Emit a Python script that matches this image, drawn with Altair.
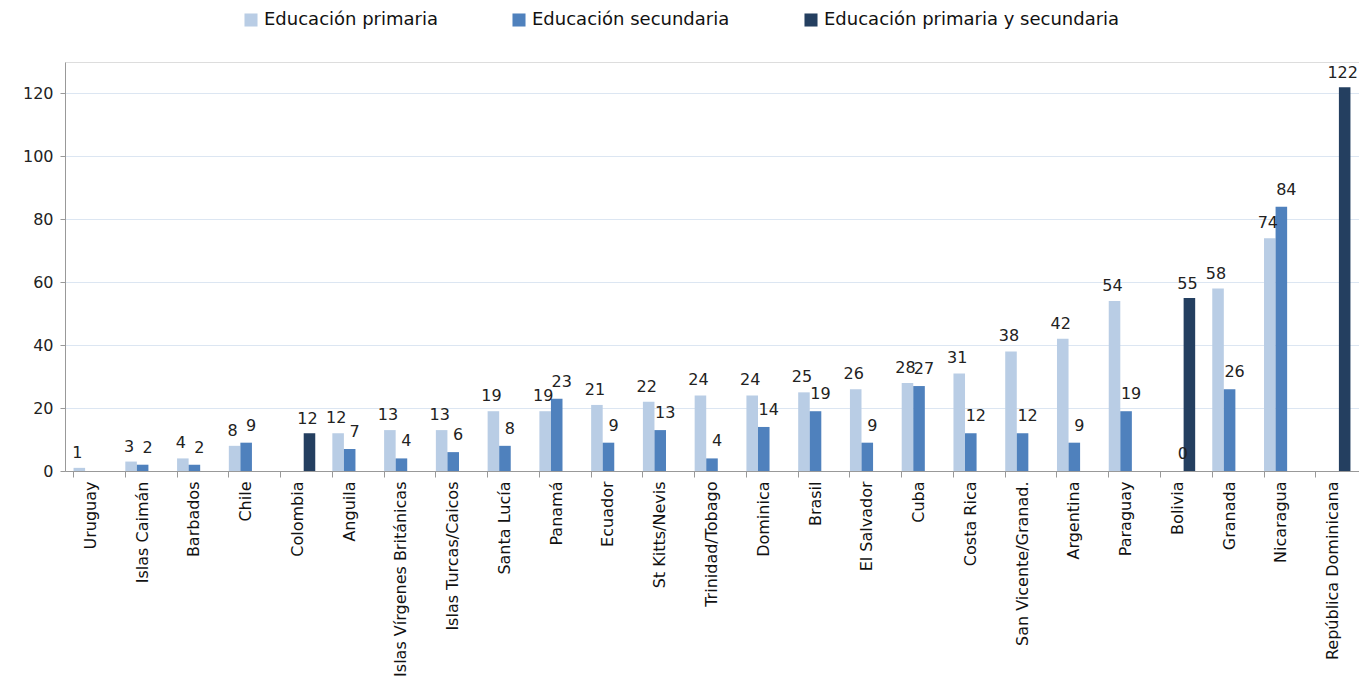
import altair as alt
import pandas as pd

countries = ["Uruguay", "Islas Caimán", "Barbados", "Chile", "Colombia", "Anguila",
             "Islas Vírgenes Británicas", "Islas Turcas/Caicos", "Santa Lucía", "Panamá",
             "Ecuador", "St Kitts/Nevis", "Trinidad/Tobago", "Dominica", "Brasil",
             "El Salvador", "Cuba", "Costa Rica", "San Vicente/Granad.", "Argentina",
             "Paraguay", "Bolivia", "Granada", "Nicaragua", "República Dominicana"]
primaria = [1, 3, 4, 8, None, 12, 13, 13, 19, 19, 21, 22, 24, 24, 25, 26, 28, 31, 38, 42, 54, None, 58, 74, None]
secundaria = [None, 2, 2, 9, None, 7, 4, 6, 8, 23, 9, 13, 4, 14, 19, 9, 27, 12, 12, 9, 19, 0, 26, 84, None]
ambas = [None, None, None, None, 12, None, None, None, None, None, None, None, None, None, None,
         None, None, None, None, None, None, 55, None, None, 122]

series = ["Educación primaria", "Educación secundaria", "Educación primaria y secundaria"]
colors = ["#B9CDE5", "#4F81BD", "#243F60"]

rows = []
for i, c in enumerate(countries):
    for s, vals in zip(series, [primaria, secundaria, ambas]):
        v = vals[i]
        if v is not None:
            rows.append({"pais": c, "serie": s, "valor": v})
df = pd.DataFrame(rows)

FONT = "DejaVu Sans"

x = alt.X("pais:N", sort=countries, title=None,
          scale=alt.Scale(paddingInner=0.33, paddingOuter=0.165),
          axis=alt.Axis(labelAngle=-90, labelFontSize=16, labelFont=FONT, labelColor="#111",
                        bandPosition=0, tickColor="#999", domainColor="#999",
                        tickSize=6, labelPadding=4, labelLimit=300))
xo = alt.XOffset("serie:N", sort=series, scale=alt.Scale(paddingInner=0, paddingOuter=0))
y = alt.Y("valor:Q", title=None,
          scale=alt.Scale(domain=[0, 130], nice=False),
          axis=alt.Axis(values=[0, 20, 40, 60, 80, 100, 120], labelFontSize=16, labelFont=FONT,
                        labelColor="#222", gridColor="#DCE6F2", domainColor="#999",
                        tickColor="#999", tickSize=5, labelPadding=7))

base = alt.Chart(df)

bars = base.mark_bar().encode(
    x=x, xOffset=xo, y=y,
    color=alt.Color("serie:N", sort=series, title=None,
                    scale=alt.Scale(domain=series, range=colors),
                    legend=alt.Legend(orient="none", legendX=177, legendY=-51,
                                      direction="horizontal", symbolType="square",
                                      symbolSize=170, symbolStrokeWidth=0,
                                      labelFontSize=18, labelFont=FONT, labelColor="#111",
                                      columnPadding=72, labelLimit=400, symbolOffset=0))
)

txt_kw = dict(baseline="bottom", fontSize=16, font=FONT, color="#222")
lab_p = base.transform_filter(alt.datum.serie == series[0]).mark_text(dy=-7, dx=-2, **txt_kw).encode(
    x=x, xOffset=xo, y=y, text=alt.Text("valor:Q"))
lab_s = base.transform_filter(alt.datum.serie == series[1]).mark_text(dy=-9, dx=5, **txt_kw).encode(
    x=x, xOffset=xo, y=y, text=alt.Text("valor:Q"))
lab_a = base.transform_filter(alt.datum.serie == series[2]).mark_text(dy=-6, dx=-2, **txt_kw).encode(
    x=x, xOffset=xo, y=y, text=alt.Text("valor:Q"))

chart = alt.layer(bars, lab_p, lab_s, lab_a).properties(
    width=1294, height=409,
    autosize=alt.AutoSizeParams(type="none"),
    padding={"left": 57, "top": 54, "right": 0, "bottom": 206},
).configure_view(stroke=None).configure(background="white")

chart.save("out.html", embed_options={"renderer": "svg", "actions": False})
